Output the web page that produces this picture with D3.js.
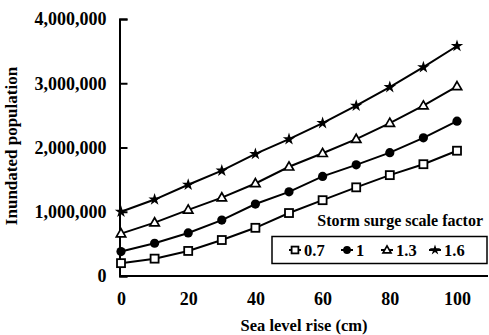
<!DOCTYPE html>
<html>
<head>
<meta charset="utf-8">
<script src="https://cdn.jsdelivr.net/npm/d3@7"></script>
<style>
html,body{margin:0;padding:0;background:#fff;}
svg text{font-family:"Liberation Serif","Times New Roman",serif;font-weight:bold;fill:#000;}
</style>
</head>
<body>
<svg id="chart" width="489" height="335"></svg>
<script>
const seaLevel = [0,10,20,30,40,50,60,70,80,90,100];
const factors = ["0.7","1","1.3","1.6"];
const pop07 = [200000,270000,390000,560000,750000,980000,1180000,1380000,1570000,1740000,1950000];
const pop10 = [380000,510000,670000,870000,1120000,1310000,1550000,1730000,1920000,2150000,2410000];
const pop13 = [660000,830000,1030000,1220000,1440000,1700000,1910000,2130000,2380000,2650000,2950000];
const pop16 = [1000000,1190000,1420000,1640000,1900000,2130000,2380000,2650000,2940000,3250000,3580000];
const xTicks = [0,20,40,60,80,100];
const yTicks = [0,1000000,2000000,3000000,4000000];
const legendTitle = "Storm surge scale factor";
const xTitle = "Sea level rise (cm)";
const yTitle = "Inundated population";

const seriesList = [pop07, pop10, pop13, pop16];
const markerTypes = ["square","circle","triangle","star"];

const svg = d3.select("#chart");
const x = d3.scaleLinear().domain([0,100]).range([121,457]);
const y = d3.scaleLinear().domain([0,4000000]).range([276,19]);

// axes
const yAxis = d3.axisLeft(y).tickValues(yTicks).tickSize(-8).tickPadding(13)
  .tickFormat(d3.format(","));
const gy = svg.append("g").attr("transform","translate(119.5,0)").call(yAxis);
gy.select(".domain").attr("stroke","#000").attr("stroke-width",2);
gy.selectAll(".tick line").attr("stroke","#000").attr("stroke-width",2);
gy.selectAll(".tick text").style("font-size","18px");

const xAxis = d3.axisBottom(x).tickValues(xTicks).tickSize(0).tickPadding(16);
const gx = svg.append("g").attr("transform","translate(0,276)").call(xAxis);
gx.select(".domain").remove();
gx.append("line").attr("x1",119).attr("x2",488).attr("y1",0).attr("y2",0)
  .attr("stroke","#000").attr("stroke-width",2);
gx.selectAll(".tick text").style("font-size","18px");

svg.append("text").attr("x",304).attr("y",331).attr("text-anchor","middle")
  .style("font-size","16.5px").text(xTitle);
svg.append("text").attr("transform","translate(17,146) rotate(-90)")
  .attr("text-anchor","middle").style("font-size","17px").text(yTitle);

// markers
function drawMarker(g, type, cx, cy, s) {
  s = s || 1;
  if (type === "square") {
    g.append("rect").attr("x",cx-4*s).attr("y",cy-4*s).attr("width",8*s).attr("height",8*s)
      .attr("fill","#fff").attr("stroke","#000").attr("stroke-width",1.8);
  } else if (type === "circle") {
    g.append("circle").attr("cx",cx).attr("cy",cy).attr("r",4.6*s).attr("fill","#000");
  } else if (type === "triangle") {
    g.append("path").attr("d",d3.symbol(d3.symbolTriangle, 38*s*s)())
      .attr("transform",`translate(${cx},${cy+0.5})`)
      .attr("fill","#fff").attr("stroke","#000").attr("stroke-width",1.7);
  } else {
    g.append("path").attr("d",d3.symbol(d3.symbolStar, 48*s*s)())
      .attr("transform",`translate(${cx},${cy})`).attr("fill","#000");
  }
}

const line = d3.line().x((d,i)=>x(seaLevel[i])).y(d=>y(d));
seriesList.forEach((vals, k) => {
  svg.append("path").datum(vals).attr("d",line).attr("fill","none")
    .attr("stroke","#000").attr("stroke-width",2);
  const g = svg.append("g");
  vals.forEach((v,i) => drawMarker(g, markerTypes[k], x(seaLevel[i]), y(v)));
});

// legend
svg.append("text").attr("x",483).attr("y",226).attr("text-anchor","end")
  .style("font-size","16px").text(legendTitle);
svg.append("rect").attr("x",272).attr("y",236.5).attr("width",215).attr("height",27)
  .attr("fill","#fff").attr("stroke","#000").attr("stroke-width",1.5);
const legX = [295, 347, 387, 435];
const lg = svg.append("g");
factors.forEach((f,k) => {
  const cx = legX[k], cy = 250;
  lg.append("line").attr("x1",cx-6).attr("x2",cx+6).attr("y1",cy).attr("y2",cy)
    .attr("stroke","#000").attr("stroke-width",2);
  drawMarker(lg, markerTypes[k], cx, cy, 0.85);
  lg.append("text").attr("x",cx+9).attr("y",cy+6).style("font-size","16.5px").text(f);
});
</script>
</body>
</html>
